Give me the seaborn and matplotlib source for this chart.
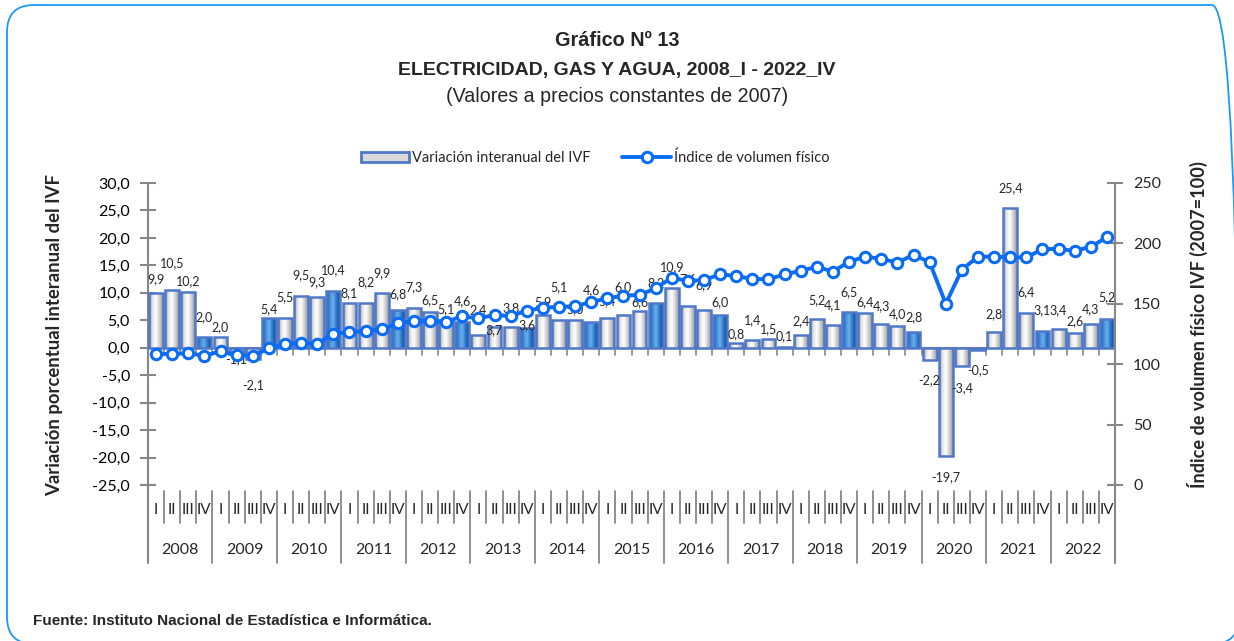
import numpy as np
import pandas as pd
import matplotlib
matplotlib.use("Agg")
import matplotlib.pyplot as plt
import seaborn as sns
from matplotlib.colors import LinearSegmentedColormap
from matplotlib.patches import FancyBboxPatch, Patch
from matplotlib.lines import Line2D

# ---- data ----
years = [str(y) for y in range(2008, 2023)]
quarters = ["I", "II", "III", "IV"]

variacion = [
    9.9, 10.5, 10.2, 2.0,     # 2008
    2.0, -1.1, -2.1, 5.4,     # 2009
    5.5, 9.5, 9.3, 10.4,      # 2010
    8.1, 8.2, 9.9, 6.8,       # 2011
    7.3, 6.5, 5.1, 4.6,       # 2012
    2.4, 3.7, 3.8, 3.6,       # 2013
    5.9, 5.1, 5.0, 4.6,       # 2014
    5.4, 6.0, 6.6, 8.2,       # 2015
    10.9, 7.6, 6.9, 6.0,      # 2016
    0.8, 1.4, 1.5, 0.1,       # 2017
    2.4, 5.2, 4.1, 6.5,       # 2018
    6.4, 4.3, 4.0, 2.8,       # 2019
    -2.2, -19.7, -3.4, -0.5,  # 2020
    2.8, 25.4, 6.4, 3.1,      # 2021
    3.4, 2.6, 4.3, 5.2,       # 2022
]

indice = [
    108.2, 108.7, 109.0, 107.0,
    110.7, 107.4, 107.0, 113.0,
    116.5, 117.8, 117.0, 125.3,
    126.4, 127.5, 129.0, 133.8,
    135.8, 135.8, 135.2, 139.6,
    138.0, 140.7, 139.9, 144.3,
    146.8, 147.4, 147.9, 151.5,
    154.5, 156.8, 157.3, 162.8,
    171.6, 168.9, 169.7, 174.4,
    173.0, 170.5, 170.3, 174.4,
    177.2, 180.7, 176.6, 184.9,
    188.9, 187.4, 184.0, 190.7,
    184.3, 150.1, 178.3, 189.0,
    189.0, 188.5, 188.5, 195.1,
    195.6, 193.7, 197.3, 205.0,
]

# distance (px) from the bar end to the centre of its data label, as placed in the original
label_gap = [
    14, 27, 11, 20, 10, 5, 26, 9,
    20, 20, 15, 20, 10, 21, 20, 16,
    20, 12, 11, 21, 24, -3, 19, 3,
    13, 33, 11, 32, 17, 28, 9, 20,
    21, 27, 25, 13, 9, 20, 10, 11,
    13, 19, 20, 20, 10, 18, 12, 15,
    20, 21, 22, 20, 18, 20, 20, 21,
    19, 12, 15, 22,
]

df = pd.DataFrame({
    "pos": np.arange(len(variacion)),
    "trimestre": quarters * len(years),
    "variacion": variacion,
    "indice": indice,
})

# ---- style ----
sns.set_style("white")
plt.rcParams["font.family"] = ["Lato", "DejaVu Sans"]
edge_blue = "#5078C8"
line_blue = "#0A6CF5"
axis_gray = "#878787"

gray_cmap = LinearSegmentedColormap.from_list(
    "g", ["#8E8E8E", "#E6E6E6", "#FFFFFF", "#D0D0D0", "#9A9A9A"])
blue_cmap = LinearSegmentedColormap.from_list(
    "b", ["#10519C", "#3D8BD9", "#6FAEEA", "#2C7ACB", "#0F4E97"])

fig = plt.figure(figsize=(12.34, 6.41), dpi=100)
ax = fig.add_axes([148 / 1234, 1 - 485 / 641, (1115 - 148) / 1234, 302 / 641])

sns.barplot(data=df, x="pos", y="variacion", native_scale=True, width=0.86,
            color="#D9D9D9", errorbar=None, ax=ax, zorder=3)

# gradient fill clipped to each bar
bars = sorted(ax.patches, key=lambda p: p.get_x())
grad = np.linspace(0, 1, 64).reshape(1, -1)
for p, q in zip(bars, df["trimestre"]):
    x0, y0, w, h = p.get_x(), p.get_y(), p.get_width(), p.get_height()
    cmap = blue_cmap if q == "IV" else gray_cmap
    im = ax.imshow(grad, cmap=cmap, extent=[x0, x0 + w, y0, y0 + h],
                   aspect="auto", zorder=2.9, interpolation="bilinear")
    im.set_clip_path(p)
    p.set_facecolor("none")
    p.set_edgecolor(edge_blue)
    p.set_linewidth(1.8)

ax.set_xlim(-0.5, len(variacion) - 0.5)
ax.set_ylim(-25, 30)
ax.set_yticks(np.arange(-25, 31, 5))
ax.set_yticklabels([f"{v:.1f}".replace(".", ",") for v in np.arange(-25, 31, 5)])
ax.set_xticks([])
ax.set_xlabel("")
ax.set_ylabel("")
for s in ["top", "right", "bottom"]:
    ax.spines[s].set_visible(False)
ax.spines["left"].set_color(axis_gray)
ax.spines["left"].set_linewidth(1.5)
ax.tick_params(axis="y", direction="inout", length=12, width=1.5,
               color=axis_gray, labelsize=11.5, pad=7, labelcolor="#000000")

# zero line with category ticks
ax.axhline(0, color=axis_gray, lw=1.5, zorder=2)
for k in range(1, len(variacion)):
    ax.plot([k - 0.5, k - 0.5], [0, -1.3], color=axis_gray, lw=1.2, zorder=2)

# data labels
for i, (v, g) in enumerate(zip(variacion, label_gap)):
    off = g * 0.72 if v >= 0 else -g * 0.72
    ax.annotate(f"{v:.1f}".replace(".", ","), xy=(i, v),
                xytext=(0, off), textcoords="offset points",
                ha="center", va="center", fontsize=9, zorder=6)

# multi-level category axis below the plot
xt = ax.get_xaxis_transform()
for k in range(1, len(variacion)):
    ybot = -0.258 if k % 4 == 0 else -0.126
    ax.plot([k - 0.5, k - 0.5], [-0.02, ybot], transform=xt, color=axis_gray,
            lw=1.3, clip_on=False)
ax.plot([0, 0], [0, -0.258], transform=ax.transAxes, color=axis_gray,
        lw=1.5, clip_on=False)
ax.plot([1, 1], [0, -0.258], transform=ax.transAxes, color=axis_gray,
        lw=1.5, clip_on=False)
for i, q in enumerate(df["trimestre"]):
    ax.text(i, -0.083, q, transform=xt, ha="center", va="center", fontsize=11)
for j, y in enumerate(years):
    ax.text(4 * j + 1.5, -0.215, y, transform=xt, ha="center", va="center",
            fontsize=11.5)

# secondary axis: index line
ax2 = ax.twinx()
sns.lineplot(data=df, x="pos", y="indice", ax=ax2, color=line_blue, lw=2.8,
             marker="o", markersize=7.5, markerfacecolor="white",
             markeredgecolor=line_blue, markeredgewidth=2.2, zorder=5)
ax2.set_ylim(0, 250)
ax2.set_yticks(np.arange(0, 251, 50))
ax2.set_ylabel("")
ax2.set_xlabel("")
ax2.set_xticks([])
for s in ["top", "left", "bottom"]:
    ax2.spines[s].set_visible(False)
ax2.spines["right"].set_color(axis_gray)
ax2.spines["right"].set_linewidth(1.5)
ax2.tick_params(axis="y", direction="inout", length=12, width=1.5,
                color=axis_gray, labelsize=11.5, pad=7)

# axis titles
fig.text(55 / 1234, 1 - 335 / 641, "Variación porcentual interanual del IVF",
         rotation=90, ha="center", va="center", fontsize=13.3, fontweight="bold")
fig.text(1197 / 1234, 1 - 325 / 641, "Índice de volumen físico IVF (2007=100)",
         rotation=90, ha="center", va="center", fontsize=13.1, fontweight="bold")

# titles
title_font = ["Liberation Sans", "DejaVu Sans"]
fig.text(0.5, 1 - 40 / 641, "Gráfico Nº 13", ha="center", va="center",
         fontsize=14.3, fontweight="bold", family=title_font)
fig.text(0.5, 1 - 70 / 641, "ELECTRICIDAD, GAS Y AGUA, 2008_I - 2022_IV",
         ha="center", va="center", fontsize=14, fontweight="bold", family=title_font)
fig.text(0.5, 1 - 97 / 641, "(Valores a precios constantes de 2007)",
         ha="center", va="center", fontsize=14.1, family=title_font)

# legend
handles = [
    Patch(facecolor="#D9D9D9", edgecolor=edge_blue, lw=2),
    Line2D([0], [0], color=line_blue, lw=2.8, marker="o", markersize=7.5,
           markerfacecolor="white", markeredgecolor=line_blue, markeredgewidth=2.2),
]
fig.legend(handles, ["Variación interanual del IVF", "Índice de volumen físico"],
           loc="center", bbox_to_anchor=(595 / 1234, 1 - 158 / 641), ncol=2,
           frameon=False, fontsize=10.5, handlelength=3.3, handletextpad=0.2,
           columnspacing=2.2)

# source
fig.text(33 / 1234, 1 - 621 / 641,
         "Fuente: Instituto Nacional de Estadística e Informática.",
         ha="left", va="center", fontsize=11, fontweight="bold",
         family=["Liberation Sans Narrow", "Liberation Sans", "DejaVu Sans"])

# rounded border
fig.patches.append(FancyBboxPatch((0.07, -0.03), 12.32, 6.39,
                                  boxstyle="round,pad=0,rounding_size=0.27",
                                  transform=fig.dpi_scale_trans, fill=False,
                                  edgecolor="#1E98F5", lw=1.3))

fig.savefig("out.png", dpi=100)
